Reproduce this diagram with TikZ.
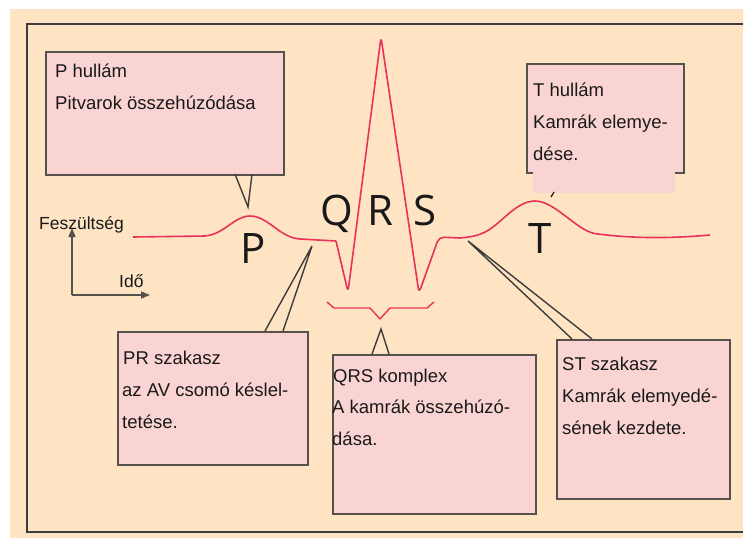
\documentclass[tikz,border=0pt]{standalone}
\usepackage{fontspec}
\setmainfont{Liberation Sans}
\newfontfamily\bigletters{Open Sans}
\usetikzlibrary{arrows.meta}
\definecolor{bgbeige}{RGB}{255,228,196}
\definecolor{boxpink}{RGB}{250,212,210}
\definecolor{boxedge}{RGB}{85,82,78}
\definecolor{framegray}{RGB}{60,60,60}
\definecolor{ecgred}{RGB}{232,50,88}
\definecolor{inkdark}{RGB}{25,25,25}
\tikzset{
  infobox/.style={draw=boxedge, fill=boxpink, line width=1.5pt, rectangle, inner sep=0pt, anchor=north west},
  boxtext/.style={anchor=base west, inner sep=0pt, text=inkdark, font=\fontsize{18.5}{22}\selectfont},
  axislabel/.style={anchor=base west, inner sep=0pt, text=inkdark, font=\fontsize{17.5}{20}\selectfont},
  wave/.style={bigletters/.try, anchor=base, inner sep=0pt, text=inkdark, font=\bigletters\fontsize{42}{44}\selectfont},
  pointer/.style={draw=inkdark!85, line width=1.4pt},
  ecg/.style={draw=ecgred, line width=1.6pt, line join=round},
  axisline/.style={draw=boxedge, line width=1.5pt, -{Triangle[length=9pt,width=7pt]}},
}
\begin{document}
\begin{tikzpicture}[x=1pt,y=-1pt]
\useasboundingbox (0,0) rectangle (743,538);
\fill[white] (0,0) rectangle (743,538);
\fill[bgbeige] (10,9) rectangle (743,538);
% frame
\draw[framegray, line width=2pt] (748,24) -- (27,24) -- (27,532) -- (748,532);

% ECG trace
\draw[ecg] (133,237) -- (205,236) .. controls (225,234) and (234,216) .. (250,216)
  .. controls (268,216) and (280,238) .. (300,239) -- (336,241);
\draw[ecg, rounded corners=5pt] (336,241) -- (348,292) -- (381,37) -- (419,293) -- (439,237) -- (460,238);
\draw[ecg] (460,238) .. controls (470,237) and (477,236) .. (483,233)
  .. controls (500,226) and (515,201) .. (535,201)
  .. controls (556,201) and (578,233) .. (598,234)
  .. controls (630,238) and (665,239) .. (710,235);

% QRS brace
\draw[ecg, line width=1.4pt] (327,302) -- (334,308) -- (370,308) -- (380,319) -- (390,308) -- (427,308) -- (434,302);

% wave letters
\node[wave] (lp) at (253,263) {P};
\node[wave] (lq) at (337,225) {Q};
\node[wave] (lr) at (380,225) {R};
\node[wave] (ls) at (425,225) {S};
\node[wave] (lt) at (540,253) {T};

% axes
\coordinate (origin) at (72,295);
\coordinate (vend) at (72,228);
\coordinate (hend) at (150,295);
\draw[axisline] (origin) -- (vend);
\draw[axisline] (origin) -- (hend);
\node[axislabel] (feszl) at (39,229) {Feszültség};
\node[axislabel] (idol) at (119,287) {Idő};

% boxes
\node[infobox, minimum width=238pt, minimum height=123pt] (pbox) at (45,51) {};
\node[infobox, minimum width=190pt, minimum height=133pt] (prbox) at (117,331) {};
\node[infobox, minimum width=203pt, minimum height=159pt] (qrsbox) at (332,354) {};
\node[infobox, minimum width=173pt, minimum height=159pt] (stbox) at (556,339) {};
\node[infobox, minimum width=157pt, minimum height=109pt] (tbox) at (526,63) {};
\fill[boxpink] (533,169) rectangle (675,193);
\draw[inkdark, line width=1.2pt] (551,197) -- (554,192);

% pointers
\coordinate (ptip) at (248,207);
\coordinate (pa) at (235,174);
\coordinate (pb) at (252,174);
\draw[pointer] (pa) -- (ptip) -- (pb);
\coordinate (prtip) at (312,246);
\coordinate (pra) at (265,331);
\coordinate (prb) at (283,331);
\draw[pointer] (pra) -- (prtip) -- (prb);
\coordinate (qtip) at (381,329);
\coordinate (qa) at (372,354);
\coordinate (qb) at (389,354);
\draw[pointer] (qa) -- (qtip) -- (qb);
\coordinate (sttip) at (468,241);
\coordinate (sta) at (572,339);
\coordinate (stb) at (592,339);
\draw[pointer] (sta) -- (sttip) -- (stb);

% box texts
\node[boxtext] (pt1) at (55,77) {P hullám};
\node[boxtext] (pt2) at (55,109) {Pitvarok összehúzódása};
\node[boxtext] (prt1) at (123,364) {PR szakasz};
\node[boxtext] (prt2) at (122,396) {az AV csomó késlel-};
\node[boxtext] (prt3) at (122,428) {tetése.};
\node[boxtext] (qt1) at (333,382) {QRS komplex};
\node[boxtext] (qt2) at (332,413) {A kamrák összehúzó-};
\node[boxtext] (qt3) at (332,445) {dása.};
\node[boxtext] (stt1) at (562,370) {ST szakasz};
\node[boxtext] (stt2) at (562,402) {Kamrák elemyedé-};
\node[boxtext] (stt3) at (562,434) {sének kezdete.};
\node[boxtext] (tt1) at (533,96) {T hullám};
\node[boxtext] (tt2) at (533,128) {Kamrák elemye-};
\node[boxtext] (tt3) at (533,160) {dése.};
\end{tikzpicture}
\end{document}
